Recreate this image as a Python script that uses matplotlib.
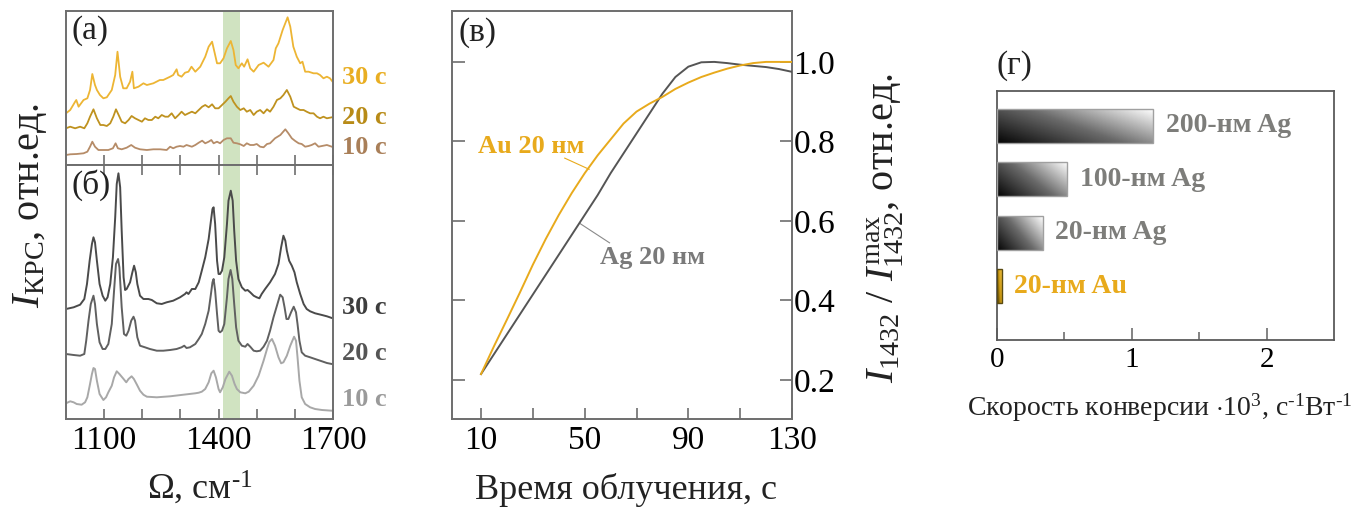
import numpy as np
import matplotlib
matplotlib.use("Agg")
import matplotlib.pyplot as plt
from matplotlib.colors import LinearSegmentedColormap

plt.rcParams['font.family'] = ['Liberation Serif', 'DejaVu Serif']
plt.rcParams['mathtext.fontset'] = 'custom'
plt.rcParams['mathtext.rm'] = 'Liberation Serif'
plt.rcParams['mathtext.it'] = 'Liberation Serif:italic'
plt.rcParams['mathtext.bf'] = 'Liberation Serif:bold'

# ---------------- data: panel (а) noisy SERS spectra ----------------
a30_w = [1000, 1011, 1024, 1027, 1033, 1046, 1056, 1063, 1069, 1076, 1081, 1089, 1098, 1107,
         1120, 1129, 1135, 1142, 1150, 1159, 1168, 1174, 1178, 1190, 1203, 1212, 1229, 1246,
         1255, 1273, 1281, 1290, 1294, 1303, 1312, 1321, 1329,
         1339, 1352, 1365, 1374, 1383, 1390, 1396, 1404, 1413, 1422, 1432, 1439, 1445, 1452,
         1461, 1467, 1476, 1483, 1492, 1505, 1518, 1531, 1544, 1550, 1557, 1568, 1581, 1588,
         1596, 1605, 1614, 1620, 1627, 1636, 1649, 1658, 1666, 1675, 1684, 1692, 1699]
a30_i = [51.7, 55, 63.3, 65, 58.3, 65, 66.7, 75, 91, 80, 75, 70, 66.7, 67.7,
         75, 90, 113.3, 88.3, 76.7, 76.7, 83.3, 93.3, 76.7, 78.3, 81.7, 80, 81.7, 85,
         85, 88.3, 90, 95.7, 90, 88.3, 92.3, 93.3, 98.3,
         93.3, 98.3, 108.3, 118.3, 123.3, 111.7, 101.7, 101.7, 106.7, 116.7, 124, 115, 100, 96.7,
         101.7, 98.3, 105.7, 96.7, 93.3, 100, 102.3, 98.3, 105, 116.7, 121.7, 135, 147.7, 138.3,
         118.3, 108.3, 101.7, 103.3, 93.3, 93.3, 91.7, 91.7, 90, 86.7, 88.3, 86.7, 83.3]

a20_w = [1000, 1011, 1024, 1037, 1048, 1056, 1063, 1072, 1081, 1090, 1098, 1107, 1116, 1124,
         1131, 1138, 1146, 1155, 1164, 1172, 1181, 1190, 1199, 1207, 1216, 1225, 1234, 1242,
         1251, 1260, 1268, 1277, 1286, 1295, 1303, 1312, 1321, 1330,
         1339, 1348, 1357, 1365, 1374, 1383, 1391, 1400, 1409, 1418, 1426, 1432, 1439, 1448,
         1457, 1466, 1474, 1483, 1492, 1500, 1509, 1518, 1527, 1535, 1544, 1553, 1562, 1570,
         1579, 1588, 1597, 1605, 1614, 1623, 1631, 1640, 1649, 1658, 1666, 1675, 1684, 1697]
a20_i = [36.7, 38.3, 36.7, 38.3, 36.7, 41.7, 48.3, 55.7, 46.7, 40, 40, 39, 41.7, 48.3,
         55.7, 50, 43.3, 41.7, 45, 49, 46.7, 45, 43.3, 46.7, 45, 45, 48.3, 46.7,
         50, 48.3, 48.3, 51.7, 46.7, 50, 53.3, 50, 51.7, 53.3,
         51.7, 55, 58.3, 60, 57.7, 60.7, 56.7, 56.7, 60, 63.3, 66.7, 69, 63.3, 58.3,
         55, 56.7, 53.3, 55, 50, 53.3, 55, 51.7, 55.7, 53.3, 58.3, 65, 66.7, 70,
         75, 68.3, 58.3, 56.7, 55, 55, 53.3, 51.7, 51.7, 48.3, 46.7, 48.3, 46.7, 47.7]

a10_w = [1000, 1011, 1028, 1046, 1056, 1063, 1069, 1076, 1085, 1098, 1111, 1123, 1130, 1136,
         1146, 1159, 1171, 1181, 1194, 1212, 1229, 1247, 1264, 1273, 1281, 1290, 1299, 1308,
         1316, 1330,
         1339, 1348, 1357, 1365, 1374, 1381, 1387, 1396, 1404, 1413, 1422, 1432, 1439, 1448,
         1457, 1466, 1474, 1483, 1492, 1500, 1509, 1518, 1527, 1535, 1548, 1562, 1575, 1583,
         1592, 1601, 1610, 1618, 1627, 1636, 1644, 1653, 1662, 1671, 1684, 1697]
a10_i = [10, 10.7, 11, 11.7, 13.3, 18.3, 23.3, 18.3, 15, 15, 15, 16.7, 21.7, 16.7,
         15.7, 17.3, 20, 17.3, 15.7, 15, 15.7, 15.7, 15, 18.3, 16.7, 18.3, 19, 18.3,
         20, 18.3,
         20, 22.3, 24.3, 21.7, 23.3, 25, 21.7, 23.3, 21.7, 25, 26.7, 26.7, 22.3, 21.7,
         20.7, 19, 21.7, 20, 20, 21, 18.3, 17.7, 21, 21.7, 26.7, 30, 35.7, 31.7,
         26.7, 24, 21.7, 21, 18.3, 19, 20, 21.7, 18.3, 19, 20, 18.3]

# ---------------- data: panel (б) smooth spectra ----------------
b30_w = [1000, 1020, 1037, 1048, 1055, 1062, 1068, 1072, 1076, 1081, 1088, 1096, 1103, 1109,
         1116, 1123, 1129, 1133, 1137.5, 1142, 1146, 1151, 1155, 1159, 1168, 1174, 1178.5, 1183,
         1187, 1194, 1203, 1216, 1225, 1238, 1251, 1264, 1281, 1299, 1312, 1316, 1321, 1330,
         1339, 1348, 1356, 1365, 1374, 1380, 1384, 1387, 1391, 1396, 1400, 1404, 1409, 1415,
         1422, 1426, 1432, 1437, 1441, 1446, 1452, 1461, 1470, 1476, 1483, 1492, 1500, 1507,
         1513, 1522, 1535, 1548, 1557, 1564, 1570, 1575, 1579, 1585, 1592, 1599, 1605, 1614,
         1623, 1631, 1640, 1653, 1671, 1684, 1697]
b30_i = [110, 111.7, 114.3, 120, 135, 158.3, 175, 181.7, 176.7, 158.3, 135, 123.3, 118.3, 121.7,
         135, 161.7, 201.7, 235, 245.7, 231.7, 188.3, 141.7, 129, 130, 136.7, 146.7, 153.3, 146.7,
         135, 123.3, 120, 120, 119, 115.7, 115, 116.7, 118.3, 121.7, 125, 126.7, 125, 130,
         130, 136.7, 148.3, 161.7, 180, 198.3, 210, 211.7, 195, 158.3, 145, 145, 148.3, 161.7,
         195, 218.3, 228.3, 218.3, 188.3, 158.3, 140, 131.7, 128.3, 129, 126.7, 123.3, 121.7, 120.7,
         125, 130, 136.7, 145, 155, 171.7, 183.3, 178.3, 168.3, 158.3, 153.3, 146.7, 136.7, 125,
         115, 110, 107.7, 105.7, 104, 102.7, 101]

b20_w = [1000, 1020, 1037, 1048, 1053, 1059, 1065, 1072, 1076, 1081, 1088, 1096, 1103, 1111,
         1120, 1126, 1131, 1136.5, 1140, 1146, 1152, 1158, 1164, 1171, 1177, 1181, 1187, 1194,
         1207, 1220, 1238, 1255, 1273, 1290, 1303, 1310, 1316, 1325,
         1339, 1348, 1356, 1365, 1374, 1380, 1384, 1387, 1391, 1396, 1400, 1404, 1409, 1415,
         1422, 1426, 1431.5, 1436, 1441, 1446, 1452, 1461, 1470, 1476, 1483, 1492, 1500, 1509,
         1518, 1527, 1535, 1544, 1553, 1561.5, 1568, 1573, 1578, 1583, 1590, 1597, 1603, 1607,
         1612, 1618, 1627, 1640, 1653, 1671, 1684, 1697]
b20_i = [65, 64, 63.3, 65, 78.3, 98.3, 115, 123.3, 115, 95, 76.7, 70, 70, 75,
         95, 128.3, 155, 160, 151.7, 111.7, 85, 83.3, 88.3, 98.3, 102.3, 98.3, 81.7, 73.3,
         71.7, 70, 68.3, 68.3, 69, 70, 71.7, 73.3, 71, 71.7,
         75, 80, 85, 95, 108.3, 125, 136.7, 140, 128.3, 105, 88.3, 86.7, 88.3, 95,
         121.7, 140, 149, 140, 115, 91.7, 78.3, 73.3, 72.3, 75, 72.3, 68.3, 67.7, 68.3,
         72.3, 78.3, 88.3, 101.7, 113.3, 124.3, 121.7, 111.7, 100, 100, 106.7, 112.3, 106.7, 95,
         78.3, 66.7, 63.3, 61.7, 60, 57.7, 56, 55]

b10_w = [1000, 1011, 1020, 1028, 1041, 1050, 1056, 1063, 1068, 1072, 1076, 1081, 1088, 1098,
         1105, 1111, 1120, 1126, 1133, 1140, 1151, 1158, 1164, 1172, 1178, 1185, 1194, 1203,
         1212, 1238, 1273, 1308,
         1339, 1348, 1356, 1365, 1374, 1381, 1387, 1393, 1400, 1404, 1411, 1418, 1428, 1435,
         1442, 1448, 1457, 1470, 1479, 1492, 1505, 1518, 1527, 1533, 1540, 1548, 1557, 1564,
         1570, 1579, 1588, 1598, 1603, 1607, 1612, 1618, 1627, 1640, 1653, 1671, 1697]
b10_i = [15.7, 17.7, 16.7, 15, 14.3, 16.7, 21.7, 35, 45, 51, 50, 38.3, 25, 19,
         21.7, 26.7, 33.3, 41.7, 47.7, 45, 40, 36.7, 40, 42.7, 40, 35, 28.3, 24.3,
         22.3, 21.7, 22.7, 24.3,
         25.7, 26.3, 27.3, 30, 36.7, 45.7, 48.3, 41.7, 30, 26.7, 31.7, 40, 47.3, 43.3,
         35, 30, 26.7, 25.7, 27.3, 33.3, 43.3, 58.3, 70, 77, 80, 73.3, 61.7, 55.7,
         56.7, 63.3, 73.3, 82.3, 78.3, 61.7, 38.3, 21.7, 15, 11.7, 10, 9, 8.3]

# ---------------- data: panel (в) normalized intensity vs time ----------------
t_s = [10, 15, 20, 25, 30, 35, 40, 45, 50, 55, 60, 65, 70, 75, 80, 85, 90, 95,
       100, 105, 110, 115, 120, 125, 130]
au_norm = [0.215, 0.285, 0.352, 0.42, 0.49, 0.555, 0.615, 0.67, 0.72, 0.765, 0.805, 0.845,
           0.875, 0.895, 0.912, 0.932, 0.948, 0.962, 0.973, 0.983, 0.991, 0.997, 1.0, 1.0, 1.0]
ag_norm = [0.215, 0.265, 0.315, 0.365, 0.415, 0.465, 0.515, 0.565, 0.615, 0.665, 0.72, 0.77,
           0.82, 0.87, 0.92, 0.962, 0.988, 0.999, 1.0, 0.997, 0.993, 0.99, 0.987, 0.982, 0.975]

# ---------------- data: panel (г) conversion rates ----------------
rate_labels = ['200-нм Ag', '100-нм Ag', '20-нм Ag', '20-нм Au']
rate_values = [1.16, 0.52, 0.34, 0.035]

# ---------------- styling ----------------
AU = '#E8AA1C'
AGL = '#555555'
SPINE = '#6e6e6e'
GREEN = '#d0e3c1'
HY = '\u2010'  # typographic hyphen for superscripts
W, H = 1371, 507

fig = plt.figure(figsize=(W / 100, H / 100), dpi=100)


def fx(px):
    return px / W


def fy(py):
    return 1 - py / H


def style_spines(ax, color=SPINE, lw=1.4):
    for s in ax.spines.values():
        s.set_color(color)
        s.set_linewidth(lw)


# panels (а) and (б)
axa = fig.add_axes([fx(66), fy(165), fx(333) - fx(66), fy(11) - fy(165)])
axb = fig.add_axes([fx(66), fy(419), fx(333) - fx(66), fy(165) - fy(419)])
for ax in (axa, axb):
    ax.axvspan(1411, 1455, color=GREEN, zorder=0, lw=0)
    ax.set_xlim(1000, 1700)
    ax.set_xticks([1100, 1200, 1300, 1400, 1500, 1600, 1700])
    ax.set_yticks([])
    ax.tick_params(axis='x', direction='in', length=7, width=1.2, color=SPINE,
                   top=True, bottom=True, labelsize=24, pad=5)
    style_spines(ax)
axa.tick_params(axis='x', top=False, labelbottom=False)
axb.set_xticklabels(['1100', '', '', '1400', '', '', '1700'])

axa.plot(a10_w, a10_i, color='#B68C68', lw=1.3)
axa.plot(a20_w, a20_i, color='#BF921F', lw=1.3)
axa.plot(a30_w, a30_i, color='#EDB534', lw=1.3)
axa.set_ylim(0, 154)
axa.text(0.02, 0.97, '(а)', transform=axa.transAxes, fontsize=24, va='top', ha='left',
         color='#222222')

axb.plot(b10_w, b10_i, color='#a8a8a8', lw=1.4)
axb.plot(b20_w, b20_i, color='#606060', lw=1.4)
axb.plot(b30_w, b30_i, color='#4a4a4a', lw=1.4)
axb.set_ylim(0, 254)
axb.text(0.02, 0.985, '(б)', transform=axb.transAxes, fontsize=24, va='top', ha='left',
         color='#222222')

lab_kw = dict(fontsize=19, fontweight='bold', va='center', ha='left')
fig.text(fx(342), fy(77), '30 с', color='#E9AE22', **lab_kw)
fig.text(fx(342), fy(117), '20 с', color='#B88B17', **lab_kw)
fig.text(fx(342), fy(148), '10 с', color='#A97F58', **lab_kw)
fig.text(fx(342), fy(308), '30 с', color='#3d3d3d', **lab_kw)
fig.text(fx(342), fy(354), '20 с', color='#555555', **lab_kw)
fig.text(fx(342), fy(400), '10 с', color='#9a9a9a', **lab_kw)

fig.text(fx(200), fy(488), 'Ω, см$^{\\mathregular{' + HY + '1}}$', fontsize=26, ha='center',
         va='center', color='#222222')
fig.text(fx(30), fy(206), '$I_{\\mathrm{КРС}}$, отн.ед.', fontsize=29, rotation=90,
         ha='center', va='center', color='#222222')

# panel (в)
axc = fig.add_axes([fx(452), fy(419), fx(792) - fx(452), fy(11) - fy(419)])
axc.plot(t_s, ag_norm, color=AGL, lw=1.4, zorder=3)
axc.plot(t_s, au_norm, color=AU, lw=1.4, zorder=3)
axc.set_xlim(-1.2, 130)
axc.set_ylim(0.102, 1.128)
axc.set_xticks([10, 30, 50, 70, 90, 110, 130])
axc.set_xticklabels(['10', '', '50', '', '90', '', '130'])
axc.set_yticks([0.2, 0.4, 0.6, 0.8, 1.0])
axc.set_yticklabels(['0.2', '0.4', '0.6', '0.8', '1.0'])
axc.tick_params(axis='x', direction='in', length=8, width=1.2, color=SPINE, labelsize=24, pad=5)
axc.tick_params(axis='y', direction='in', length=9, width=1.2, color=SPINE, left=True,
                right=True, labelleft=False, labelright=True, labelsize=24, pad=1)
style_spines(axc)
axc.text(0.02, 0.985, '(в)', transform=axc.transAxes, fontsize=24, va='top', ha='left',
         color='#222222')
axc.text(8.8, 0.787, 'Au 20 нм', color=AU, fontsize=19, fontweight='bold', va='center',
         ha='left')
axc.plot([42.3, 51.7], [0.758, 0.730], color=AU, lw=0.8)
axc.text(55.8, 0.507, 'Ag 20 нм', color='#7a7a7a', fontsize=19, fontweight='bold',
         va='center', ha='left')
axc.plot([48.1, 59.6], [0.594, 0.545], color='#8a8a8a', lw=0.8)

fig.text(fx(626), fy(490), 'Время облучения, с', fontsize=26, ha='center', va='center',
         color='#222222')
fig.text(fx(885), fy(228),
         '$I_{\\mathregular{1432}}$ / $I_{\\mathregular{1432}}^{\\mathregular{max}}$, отн.ед.',
         fontsize=29, rotation=90, ha='center', va='center', color='#222222')

# panel (г)
axd = fig.add_axes([fx(997), fy(340), fx(1334) - fx(997), fy(91) - fy(340)])
ypos = [3, 2, 1, 0]
bh = 0.635
gray_cmap = LinearSegmentedColormap.from_list('g', ['#050505', '#6a6a6a', '#ffffff'])
gold_cmap = LinearSegmentedColormap.from_list('au', ['#3b3005', '#c8960f', '#f0c040'])
u = np.linspace(0, 1, 200)
v = np.linspace(0, 1, 50)
grad = 0.62 * u[None, :] + 0.38 * v[:, None]
for lab, val, yc in zip(rate_labels, rate_values, ypos):
    is_au = 'Au' in lab
    bar = axd.barh(yc, val, height=bh, left=0, facecolor='none',
                   edgecolor='#5a4a10' if is_au else '#a0a0a0', lw=1.0, zorder=3)[0]
    im = axd.imshow(grad, extent=[0, val, yc - bh / 2, yc + bh / 2], origin='lower',
                    cmap=gold_cmap if is_au else gray_cmap, aspect='auto', zorder=2,
                    interpolation='bilinear')
    im.set_clip_path(bar)
    axd.annotate(lab, xy=(val, yc), xytext=(9, 0), textcoords='offset points',
                 fontsize=20, fontweight='bold', va='center', ha='left',
                 color=AU if is_au else '#7d7d7a')
axd.set_xlim(0, 2.5)
axd.set_ylim(-1.01, 3.65)
axd.set_yticks([])
axd.set_xticks([0, 1, 2])
axd.set_xticks([0.5, 1.5], minor=True)
axd.tick_params(axis='x', which='major', direction='in', length=9, width=1.2, color=SPINE,
                labelsize=21, pad=5)
axd.tick_params(axis='x', which='minor', direction='in', length=6, width=1.2, color=SPINE)
style_spines(axd, color='#5a5a5a', lw=1.3)
axd.text(0.0, 1.04, '(г)', transform=axd.transAxes, fontsize=24, va='bottom', ha='left',
         color='#222222')
fig.text(fx(1160), fy(408),
         'Скорость конверсии $\\cdot$10$^{\\mathregular{3}}$, с$^{\\mathregular{' + HY +
         '1}}$Вт$^{\\mathregular{' + HY + '1}}$',
         fontsize=20, ha='center', va='center', color='#222222')

fig.savefig('out.png', dpi=100)
